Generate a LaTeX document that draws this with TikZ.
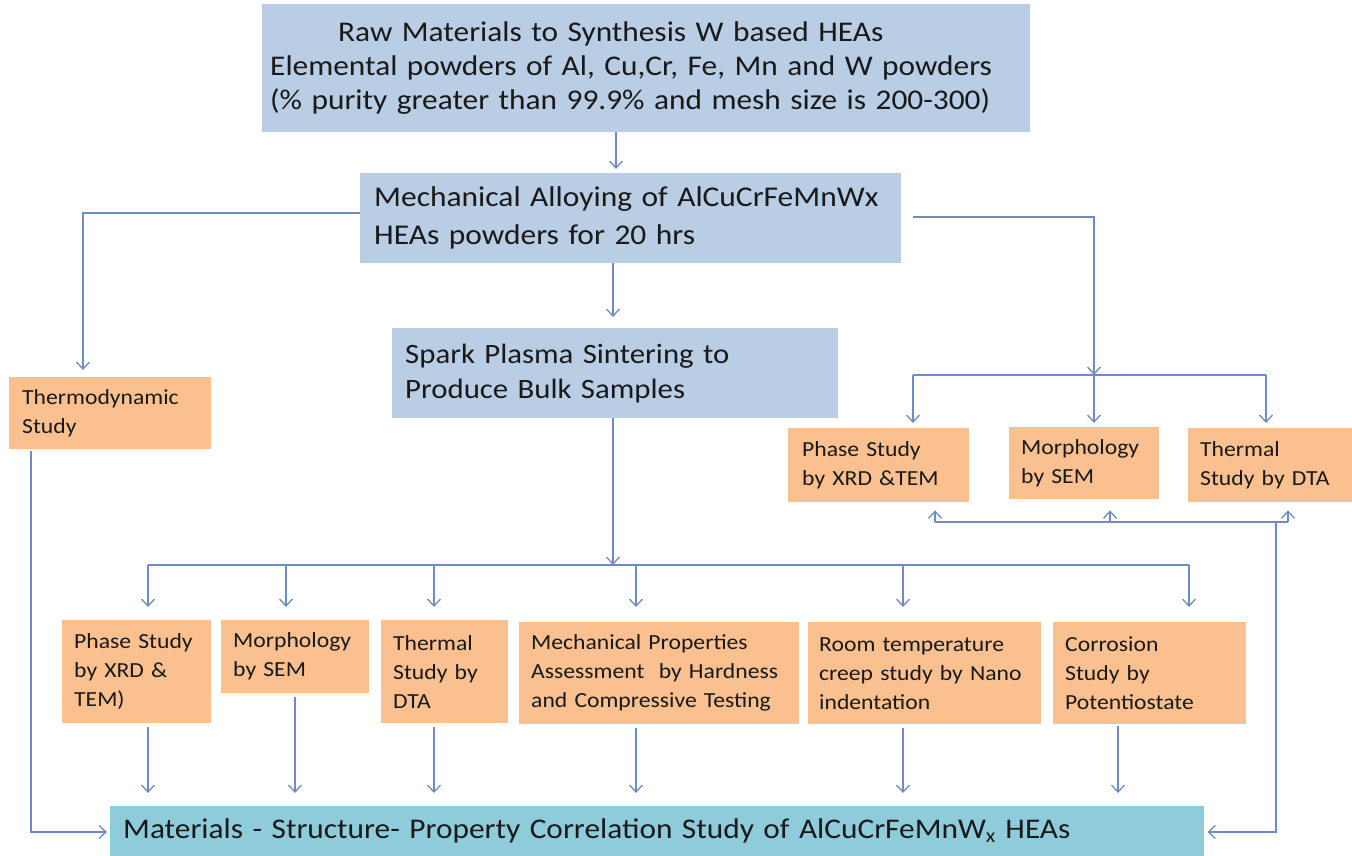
\documentclass[tikz,border=0pt]{standalone}
\usepackage{fontspec}
\setmainfont{Carlito}[FakeStretch=1.1]
\usetikzlibrary{arrows.meta}
\definecolor{bblue}{RGB}{185,205,229}
\definecolor{borange}{RGB}{250,192,144}
\definecolor{bteal}{RGB}{142,204,220}
\definecolor{lnc}{RGB}{110,140,195}
\definecolor{txt}{RGB}{25,25,25}
\tikzset{
  box/.style={anchor=north west, inner ysep=0pt, inner xsep=12pt, align=left, text=txt},
  bluebox/.style={box, fill=bblue},
  orbox/.style={box, fill=borange, font=\fontsize{21.5}{29}\selectfont},
  arr/.style={draw=lnc, line width=1.3pt, -{Straight Barb[length=7pt,width=13pt]}},
  ln/.style={draw=lnc, line width=1.3pt},
}
\begin{document}
\begin{tikzpicture}[x=1pt,y=-1pt]
\useasboundingbox (0,0) rectangle (1352,856);

% main blue boxes
\node[bluebox, inner xsep=8pt, minimum width=768pt, minimum height=128pt, text width=752pt,
      font=\fontsize{28.5}{34}\selectfont] (raw) at (262,4)
  {\mbox{\hspace*{68pt}Raw Materials to Synthesis W based HEAs}\\
   \mbox{Elemental powders of Al, Cu,Cr, Fe, Mn and W powders}\\
   \mbox{(\% purity greater than 99.9\% and mesh size is 200-300)}};
\node[bluebox, inner xsep=14pt, minimum width=541pt, minimum height=90pt, text width=513pt,
      font=\fontsize{28.6}{38}\selectfont] (mech) at (360,173)
  {\mbox{Mechanical Alloying of AlCuCrFeMnWx}\\\mbox{HEAs powders for 20 hrs}};
\node[bluebox, inner xsep=13pt, minimum width=446pt, minimum height=90pt, text width=420pt,
      font=\fontsize{28}{35}\selectfont] (spark) at (392,328)
  {\mbox{Spark Plasma Sintering to}\\\mbox{Produce Bulk Samples}};

% orange boxes
\node[orbox, inner xsep=13pt, minimum width=202pt, minimum height=72pt, text width=176pt] (thermo) at (9,377)
  {\mbox{Thermodynamic}\\\mbox{Study}};
\node[orbox, inner xsep=14pt, minimum width=181pt, minimum height=74pt, text width=153pt] (rp) at (788,428)
  {\mbox{Phase Study}\\\mbox{by XRD \&TEM}};
\node[orbox, inner xsep=12pt, minimum width=150pt, minimum height=72pt, text width=126pt] (rm) at (1009,427)
  {\mbox{Morphology}\\\mbox{by SEM}};
\node[orbox, inner xsep=12pt, minimum width=164pt, minimum height=74pt, text width=140pt] (rt) at (1188,428)
  {\mbox{Thermal}\\\mbox{Study by DTA}};

\node[orbox, minimum width=149pt, minimum height=103pt, text width=125pt] (bp) at (62,620)
  {\mbox{Phase Study}\\\mbox{by XRD \&}\\\mbox{TEM)}};
\node[orbox, minimum width=148pt, minimum height=73pt, text width=124pt] (bm) at (221,620)
  {\mbox{Morphology}\\\mbox{by SEM}};
\node[orbox, minimum width=127pt, minimum height=103pt, text width=103pt] (bt) at (381,620)
  {\mbox{Thermal}\\\mbox{Study by}\\\mbox{DTA}};
\node[orbox, minimum width=280pt, minimum height=102pt, text width=256pt] (bmp) at (519,622)
  {\mbox{Mechanical Properties}\\\mbox{Assessment\ \ by Hardness}\\\mbox{and Compressive Testing}};
\node[orbox, inner xsep=11pt, minimum width=233pt, minimum height=102pt, text width=211pt] (brt) at (808,622)
  {\mbox{Room temperature}\\\mbox{creep study by Nano}\\\mbox{indentation}};
\node[orbox, minimum width=193pt, minimum height=102pt, text width=169pt] (bco) at (1053,622)
  {\mbox{Corrosion}\\\mbox{Study by}\\\mbox{Potentiostate}};

% final box
\node[box, fill=bteal, inner xsep=13pt, minimum width=1094pt, minimum height=50pt, text width=1068pt,
      font=\fontsize{28.5}{34}\selectfont] (final) at (110,806)
  {\mbox{Materials - Structure- Property Correlation Study of AlCuCrFeMnW\textsubscript{x} HEAs}};

% junction coordinates
\coordinate (x616) at (616,0);
\coordinate (x613) at (613,0);
\coordinate (jL) at (83,213);
\coordinate (yR) at (0,217);
\coordinate (jR) at (1094,375);
\coordinate (jRl) at (913,375);
\coordinate (jRr) at (1266,375);
\coordinate (jS) at (613,565);
\coordinate (jSl) at (148,565);
\coordinate (xs2) at (286,565);
\coordinate (xs3) at (434,565);
\coordinate (xs4) at (636,565);
\coordinate (xs5) at (903,565);
\coordinate (jSr) at (1189,565);
\coordinate (xd1) at (148,0);
\coordinate (xd2) at (295,0);
\coordinate (xd3) at (434,0);
\coordinate (xd4) at (636,0);
\coordinate (xd5) at (903,0);
\coordinate (xd6) at (1118,0);
\coordinate (xth) at (31,0);
\coordinate (yF) at (0,832);
\coordinate (jU) at (1276,522);
\coordinate (jUl) at (935,522);
\coordinate (jUm) at (1110,522);
\coordinate (jUr) at (1288,522);

% top arrows
\draw[arr, shorten >=4pt] (raw.south -| x616) -- (mech.north -| x616);
\draw[arr, shorten >=11pt] (mech.south -| x613) -- (spark.north -| x613);

% mech -> thermodynamic
\draw[arr, shorten >=7pt] (mech.west |- jL) -| (thermo.north -| jL);

% mech -> right cluster
\draw[arr, shorten <=12pt] (mech.east |- yR) -| (jR);
\draw[ln] (jRl) -- (jRr);
\draw[arr, shorten >=5pt] (jRl) -- (rp.north -| jRl);
\draw[arr, shorten >=4pt] (jR) -- (rm.north -| jR);
\draw[arr, shorten >=5pt] (jRr) -- (rt.north -| jRr);

% spark -> bottom row
\draw[arr] (spark.south -| jS) -- (jS);
\draw[ln] (jSl) -- (jSr);
\draw[arr, shorten >=13pt] (jSl) -- (bp.north -| jSl);
\draw[arr, shorten >=13pt] (xs2) -- (bm.north -| xs2);
\draw[arr, shorten >=13pt] (xs3) -- (bt.north -| xs3);
\draw[arr, shorten >=15pt] (xs4) -- (bmp.north -| xs4);
\draw[arr, shorten >=15pt] (xs5) -- (brt.north -| xs5);
\draw[arr, shorten >=15pt] (jSr) -- (bco.north -| jSr);

% bottom row -> final
\draw[arr, shorten <=4pt, shorten >=13pt] (bp.south -| xd1) -- (final.north -| xd1);
\draw[arr, shorten <=4pt, shorten >=13pt] (bm.south -| xd2) -- (final.north -| xd2);
\draw[arr, shorten <=4pt, shorten >=13pt] (bt.south -| xd3) -- (final.north -| xd3);
\draw[arr, shorten <=4pt, shorten >=13pt] (bmp.south -| xd4) -- (final.north -| xd4);
\draw[arr, shorten <=4pt, shorten >=13pt] (brt.south -| xd5) -- (final.north -| xd5);
\draw[arr, shorten <=2pt, shorten >=13pt] (bco.south -| xd6) -- (final.north -| xd6);

% thermodynamic -> final
\draw[arr, shorten <=2pt, shorten >=3pt] (thermo.south -| xth) |- (final.west |- yF);

% final <-> right cluster
\draw[arr, shorten >=3pt] (jU) |- (final.east |- yF);
\draw[ln] (jUl) -- (jUr);
\draw[arr, shorten >=8pt] (jUl) -- (rp.south -| jUl);
\draw[arr, shorten >=11pt] (jUm) -- (rm.south -| jUm);
\draw[arr, shorten >=8pt] (jUr) -- (rt.south -| jUr);
\end{tikzpicture}
\end{document}
